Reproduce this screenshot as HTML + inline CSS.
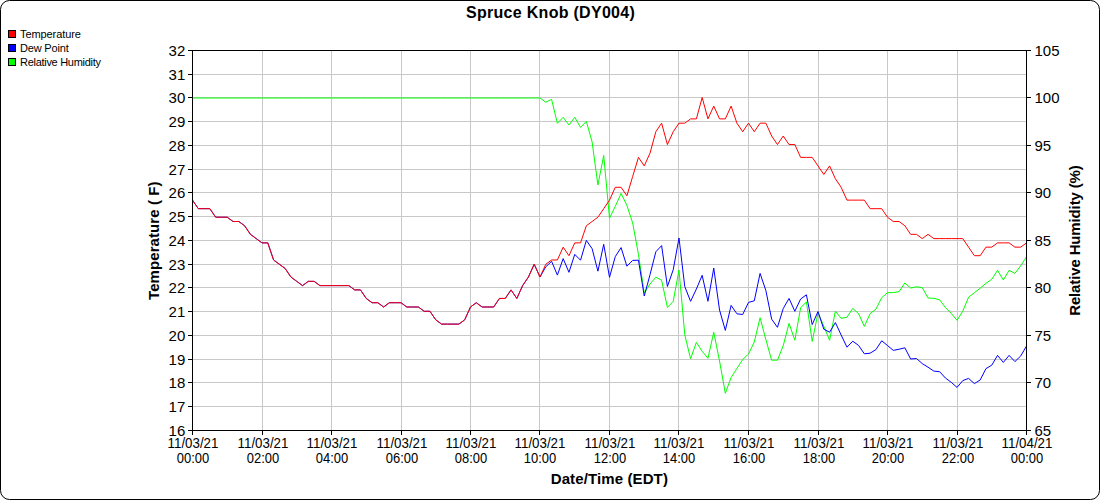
<!DOCTYPE html>
<html><head><meta charset="utf-8"><style>html,body{margin:0;padding:0;background:#fff;width:1100px;height:500px;overflow:hidden}svg{display:block}</style></head>
<body><svg width="1100" height="500" viewBox="0 0 1100 500"><rect x="0.5" y="0.5" width="1099" height="499" rx="9" ry="9" fill="#fff" stroke="#000" stroke-width="1"/>
<text x="466" y="17.8" textLength="168.8" lengthAdjust="spacing" font-family="Liberation Sans, sans-serif" font-size="16" font-weight="bold">Spruce Knob (DY004)</text>
<rect x="8.5" y="30.5" width="7" height="7" fill="#f00" stroke="#000" stroke-width="1"/>
<text x="20" y="38" textLength="60.9" lengthAdjust="spacing" font-family="Liberation Sans, sans-serif" font-size="11">Temperature</text>
<rect x="8.5" y="44.5" width="7" height="7" fill="#00f" stroke="#000" stroke-width="1"/>
<text x="20" y="52" textLength="48.7" lengthAdjust="spacing" font-family="Liberation Sans, sans-serif" font-size="11">Dew Point</text>
<rect x="8.5" y="58.5" width="7" height="7" fill="#0f0" stroke="#000" stroke-width="1"/>
<text x="20" y="66" textLength="81.0" lengthAdjust="spacing" font-family="Liberation Sans, sans-serif" font-size="11">Relative Humidity</text>
<path d="M193 406.5H1026 M193 382.5H1026 M193 359.5H1026 M193 335.5H1026 M193 311.5H1026 M193 287.5H1026 M193 264.5H1026 M193 240.5H1026 M193 216.5H1026 M193 192.5H1026 M193 169.5H1026 M193 145.5H1026 M193 121.5H1026 M193 97.5H1026 M193 74.5H1026 M262.5 51V430 M331.5 51V430 M401.5 51V430 M470.5 51V430 M539.5 51V430 M609.5 51V430 M678.5 51V430 M748.5 51V430 M818.5 51V430 M887.5 51V430 M957.5 51V430" stroke="#c8c8c8" stroke-width="1" fill="none"/>
<polyline points="192.50,98.00 198.29,98.00 204.08,98.00 209.88,98.00 215.67,98.00 221.46,98.00 227.25,98.00 233.04,98.00 238.83,98.00 244.62,98.00 250.42,98.00 256.21,98.00 262.00,98.00 267.79,98.00 273.58,98.00 279.38,98.00 285.17,98.00 290.96,98.00 296.75,98.00 302.54,98.00 308.33,98.00 314.12,98.00 319.92,98.00 325.71,98.00 331.50,98.00 337.29,98.00 343.08,98.00 348.88,98.00 354.67,98.00 360.46,98.00 366.25,98.00 372.04,98.00 377.83,98.00 383.62,98.00 389.42,98.00 395.21,98.00 401.00,98.00 406.79,98.00 412.58,98.00 418.38,98.00 424.17,98.00 429.96,98.00 435.75,98.00 441.54,98.00 447.33,98.00 453.12,98.00 458.92,98.00 464.71,98.00 470.50,98.00 476.29,98.00 482.08,98.00 487.88,98.00 493.67,98.00 499.46,98.00 505.25,98.00 511.04,98.00 516.83,98.00 522.62,98.00 528.42,98.00 534.21,98.00 540.00,98.00 545.79,102.20 551.58,99.40 557.38,123.30 563.17,117.30 568.96,125.00 574.75,117.30 580.54,127.40 586.33,121.40 592.12,142.00 597.92,185.00 603.71,155.40 609.50,218.20 615.29,206.30 621.08,193.40 626.88,205.40 632.67,222.90 638.46,254.40 644.25,293.00 650.04,284.00 655.83,277.20 661.62,280.30 667.42,307.40 673.21,301.40 679.00,270.00 684.79,334.80 690.58,358.80 696.38,342.30 702.17,351.30 707.96,358.30 713.75,332.20 719.54,361.00 725.33,393.30 731.12,377.50 736.92,368.50 742.71,359.50 748.50,354.00 754.29,342.00 760.08,317.70 765.88,339.60 771.67,360.20 777.46,360.20 783.25,345.60 789.04,323.40 794.83,340.20 800.62,307.80 806.42,301.80 812.21,341.40 818.00,312.80 823.79,326.20 829.58,340.30 835.38,311.20 841.17,318.40 846.96,317.20 852.75,308.40 858.54,313.60 864.33,326.40 870.12,313.60 875.92,309.20 881.71,297.70 887.50,292.60 893.29,292.60 899.08,291.60 904.88,283.00 910.67,288.00 916.46,286.80 922.25,287.50 928.04,298.00 933.83,298.30 939.62,299.80 945.42,307.60 951.21,313.30 957.00,320.30 962.79,311.20 968.58,297.20 974.38,292.70 980.17,288.20 985.96,283.30 991.75,279.30 997.54,270.30 1003.33,280.00 1009.12,270.30 1014.92,273.30 1020.71,265.80 1026.50,256.75" fill="none" stroke="#0f0" stroke-width="1" stroke-linejoin="round" />
<polyline points="192.50,200.13 198.29,208.68 204.08,208.68 209.88,208.68 215.67,217.22 221.46,217.22 227.25,217.22 233.04,221.50 238.83,221.50 244.62,225.77 250.42,234.33 256.21,238.60 262.00,242.88 267.79,242.88 273.58,259.98 279.38,264.25 285.17,268.52 290.96,277.07 296.75,281.35 302.54,285.62 308.33,281.35 314.12,281.35 319.92,285.62 325.71,285.62 331.50,285.62 337.29,285.62 343.08,285.62 348.88,285.62 354.67,289.90 360.46,289.90 366.25,298.45 372.04,302.73 377.83,302.73 383.62,307.00 389.42,302.73 395.21,302.73 401.00,302.73 406.79,307.00 412.58,307.00 418.38,307.00 424.17,311.27 429.96,311.27 435.75,319.82 441.54,324.10 447.33,324.10 453.12,324.10 458.92,324.10 464.71,319.82 470.50,307.00 476.29,302.73 482.08,307.00 487.88,307.00 493.67,307.00 499.46,298.45 505.25,298.45 511.04,289.90 516.83,298.45 522.62,285.62 528.42,277.07 534.21,264.25 540.00,277.00 545.79,266.80 551.58,261.30 557.38,275.10 563.17,258.60 568.96,272.30 574.75,254.40 580.54,260.20 586.33,240.40 592.12,248.70 597.92,271.20 603.71,244.30 609.50,277.30 615.29,256.60 621.08,247.60 626.88,266.20 632.67,260.40 638.46,260.20 644.25,296.00 650.04,274.60 655.83,251.80 661.62,245.60 667.42,286.50 673.21,269.80 679.00,238.00 684.79,286.60 690.58,301.30 696.38,289.00 702.17,275.30 707.96,301.30 713.75,268.10 719.54,310.00 725.33,330.40 731.12,305.40 736.92,313.80 742.71,314.50 748.50,302.40 754.29,300.80 760.08,273.40 765.88,290.60 771.67,319.20 777.46,327.30 783.25,308.50 789.04,298.40 794.83,311.30 800.62,299.00 806.42,294.80 812.21,324.60 818.00,311.50 823.79,329.20 829.58,332.20 835.38,322.60 841.17,335.00 846.96,347.20 852.75,341.20 858.54,345.40 864.33,353.80 870.12,353.20 875.92,349.60 881.71,340.80 887.50,345.50 893.29,350.40 899.08,349.20 904.88,347.80 910.67,359.00 916.46,358.50 922.25,363.60 928.04,367.20 933.83,371.10 939.62,371.70 945.42,378.00 951.21,382.30 957.00,387.40 962.79,380.60 968.58,378.40 974.38,383.60 980.17,380.00 985.96,368.60 991.75,365.20 997.54,355.40 1003.33,362.40 1009.12,355.40 1014.92,361.60 1020.71,356.00 1026.50,346.00" fill="none" stroke="#00f" stroke-width="1" stroke-linejoin="round" />
<polyline points="192.50,200.13 198.29,208.68 204.08,208.68 209.88,208.68 215.67,217.22 221.46,217.22 227.25,217.22 233.04,221.50 238.83,221.50 244.62,225.77 250.42,234.33 256.21,238.60 262.00,242.88 267.79,242.88 273.58,259.98 279.38,264.25 285.17,268.52 290.96,277.07 296.75,281.35 302.54,285.62 308.33,281.35 314.12,281.35 319.92,285.62 325.71,285.62 331.50,285.62 337.29,285.62 343.08,285.62 348.88,285.62 354.67,289.90 360.46,289.90 366.25,298.45 372.04,302.73 377.83,302.73 383.62,307.00 389.42,302.73 395.21,302.73 401.00,302.73 406.79,307.00 412.58,307.00 418.38,307.00 424.17,311.27 429.96,311.27 435.75,319.82 441.54,324.10 447.33,324.10 453.12,324.10 458.92,324.10 464.71,319.82 470.50,307.00 476.29,302.73 482.08,307.00 487.88,307.00 493.67,307.00 499.46,298.45 505.25,298.45 511.04,289.90 516.83,298.45 522.62,285.62 528.42,277.07 534.21,264.25 540.00,277.07 545.79,264.25 551.58,259.98 557.38,259.98 563.17,247.15 568.96,255.70 574.75,242.88 580.54,242.88 586.33,225.77 592.12,221.50 597.92,217.22 603.71,208.68 609.50,200.13 615.29,187.30 621.08,187.30 626.88,195.85 632.67,176.50 638.46,157.38 644.25,165.93 650.04,153.10 655.83,131.73 661.62,123.17 667.42,144.55 673.21,131.73 679.00,123.17 684.79,123.17 690.58,118.90 696.38,118.90 702.17,97.53 707.96,118.90 713.75,106.07 719.54,118.90 725.33,118.90 731.12,106.07 736.92,123.17 742.71,131.73 748.50,123.17 754.29,131.73 760.08,123.17 765.88,123.17 771.67,136.00 777.46,144.55 783.25,136.00 789.04,144.55 794.83,144.55 800.62,157.38 806.42,157.38 812.21,157.38 818.00,165.93 823.79,174.47 829.58,165.93 835.38,178.75 841.17,187.30 846.96,200.13 852.75,200.13 858.54,200.13 864.33,200.13 870.12,208.68 875.92,208.68 881.71,208.68 887.50,217.22 893.29,221.50 899.08,221.50 904.88,225.77 910.67,234.33 916.46,234.33 922.25,238.60 928.04,234.33 933.83,238.60 939.62,238.60 945.42,238.60 951.21,238.60 957.00,238.60 962.79,238.60 968.58,247.15 974.38,255.70 980.17,255.70 985.96,247.15 991.75,247.15 997.54,242.88 1003.33,242.88 1009.12,242.88 1014.92,247.15 1020.71,247.15 1026.50,242.88" fill="none" stroke="#f00" stroke-width="1" stroke-linejoin="round" />
<path d="M188 50.5H1031 M188 430.5H1031 M192.5 50V435 M1026.5 50V435 M188 406.5H192 M188 382.5H192 M188 359.5H192 M188 335.5H192 M188 311.5H192 M188 287.5H192 M188 264.5H192 M188 240.5H192 M188 216.5H192 M188 192.5H192 M188 169.5H192 M188 145.5H192 M188 121.5H192 M188 97.5H192 M188 74.5H192 M1027 382.5H1031 M1027 335.5H1031 M1027 287.5H1031 M1027 240.5H1031 M1027 192.5H1031 M1027 145.5H1031 M1027 97.5H1031 M262.5 431V435 M331.5 431V435 M401.5 431V435 M470.5 431V435 M539.5 431V435 M609.5 431V435 M678.5 431V435 M748.5 431V435 M818.5 431V435 M887.5 431V435 M957.5 431V435" stroke="#000" stroke-width="1" fill="none"/>
<text transform="translate(185.3,435.80)" text-anchor="end" font-family="Liberation Sans, sans-serif" font-size="15">16</text>
<text transform="translate(185.3,411.80)" text-anchor="end" font-family="Liberation Sans, sans-serif" font-size="15">17</text>
<text transform="translate(185.3,387.80)" text-anchor="end" font-family="Liberation Sans, sans-serif" font-size="15">18</text>
<text transform="translate(185.3,364.80)" text-anchor="end" font-family="Liberation Sans, sans-serif" font-size="15">19</text>
<text transform="translate(185.3,340.80)" text-anchor="end" font-family="Liberation Sans, sans-serif" font-size="15">20</text>
<text transform="translate(185.3,316.80)" text-anchor="end" font-family="Liberation Sans, sans-serif" font-size="15">21</text>
<text transform="translate(185.3,292.80)" text-anchor="end" font-family="Liberation Sans, sans-serif" font-size="15">22</text>
<text transform="translate(185.3,269.80)" text-anchor="end" font-family="Liberation Sans, sans-serif" font-size="15">23</text>
<text transform="translate(185.3,245.80)" text-anchor="end" font-family="Liberation Sans, sans-serif" font-size="15">24</text>
<text transform="translate(185.3,221.80)" text-anchor="end" font-family="Liberation Sans, sans-serif" font-size="15">25</text>
<text transform="translate(185.3,197.80)" text-anchor="end" font-family="Liberation Sans, sans-serif" font-size="15">26</text>
<text transform="translate(185.3,174.80)" text-anchor="end" font-family="Liberation Sans, sans-serif" font-size="15">27</text>
<text transform="translate(185.3,150.80)" text-anchor="end" font-family="Liberation Sans, sans-serif" font-size="15">28</text>
<text transform="translate(185.3,126.80)" text-anchor="end" font-family="Liberation Sans, sans-serif" font-size="15">29</text>
<text transform="translate(185.3,102.80)" text-anchor="end" font-family="Liberation Sans, sans-serif" font-size="15">30</text>
<text transform="translate(185.3,79.80)" text-anchor="end" font-family="Liberation Sans, sans-serif" font-size="15">31</text>
<text transform="translate(185.3,55.80)" text-anchor="end" font-family="Liberation Sans, sans-serif" font-size="15">32</text>
<text transform="translate(1034.5,435.80)" font-family="Liberation Sans, sans-serif" font-size="15">65</text>
<text transform="translate(1034.5,387.80)" font-family="Liberation Sans, sans-serif" font-size="15">70</text>
<text transform="translate(1034.5,340.80)" font-family="Liberation Sans, sans-serif" font-size="15">75</text>
<text transform="translate(1034.5,292.80)" font-family="Liberation Sans, sans-serif" font-size="15">80</text>
<text transform="translate(1034.5,245.80)" font-family="Liberation Sans, sans-serif" font-size="15">85</text>
<text transform="translate(1034.5,197.80)" font-family="Liberation Sans, sans-serif" font-size="15">90</text>
<text transform="translate(1034.5,150.80)" font-family="Liberation Sans, sans-serif" font-size="15">95</text>
<text transform="translate(1034.5,102.80)" font-family="Liberation Sans, sans-serif" font-size="15">100</text>
<text transform="translate(1034.5,55.80)" font-family="Liberation Sans, sans-serif" font-size="15">105</text>
<text x="193.00" y="447.8" text-anchor="middle" textLength="50.8" lengthAdjust="spacingAndGlyphs" font-family="Liberation Sans, sans-serif" font-size="14">11/03/21</text>
<text x="193.00" y="462.8" text-anchor="middle" textLength="32.4" lengthAdjust="spacingAndGlyphs" font-family="Liberation Sans, sans-serif" font-size="14">00:00</text>
<text x="263.00" y="447.8" text-anchor="middle" textLength="50.8" lengthAdjust="spacingAndGlyphs" font-family="Liberation Sans, sans-serif" font-size="14">11/03/21</text>
<text x="263.00" y="462.8" text-anchor="middle" textLength="32.4" lengthAdjust="spacingAndGlyphs" font-family="Liberation Sans, sans-serif" font-size="14">02:00</text>
<text x="332.00" y="447.8" text-anchor="middle" textLength="50.8" lengthAdjust="spacingAndGlyphs" font-family="Liberation Sans, sans-serif" font-size="14">11/03/21</text>
<text x="332.00" y="462.8" text-anchor="middle" textLength="32.4" lengthAdjust="spacingAndGlyphs" font-family="Liberation Sans, sans-serif" font-size="14">04:00</text>
<text x="402.00" y="447.8" text-anchor="middle" textLength="50.8" lengthAdjust="spacingAndGlyphs" font-family="Liberation Sans, sans-serif" font-size="14">11/03/21</text>
<text x="402.00" y="462.8" text-anchor="middle" textLength="32.4" lengthAdjust="spacingAndGlyphs" font-family="Liberation Sans, sans-serif" font-size="14">06:00</text>
<text x="471.00" y="447.8" text-anchor="middle" textLength="50.8" lengthAdjust="spacingAndGlyphs" font-family="Liberation Sans, sans-serif" font-size="14">11/03/21</text>
<text x="471.00" y="462.8" text-anchor="middle" textLength="32.4" lengthAdjust="spacingAndGlyphs" font-family="Liberation Sans, sans-serif" font-size="14">08:00</text>
<text x="540.00" y="447.8" text-anchor="middle" textLength="50.8" lengthAdjust="spacingAndGlyphs" font-family="Liberation Sans, sans-serif" font-size="14">11/03/21</text>
<text x="540.00" y="462.8" text-anchor="middle" textLength="32.4" lengthAdjust="spacingAndGlyphs" font-family="Liberation Sans, sans-serif" font-size="14">10:00</text>
<text x="610.00" y="447.8" text-anchor="middle" textLength="50.8" lengthAdjust="spacingAndGlyphs" font-family="Liberation Sans, sans-serif" font-size="14">11/03/21</text>
<text x="610.00" y="462.8" text-anchor="middle" textLength="32.4" lengthAdjust="spacingAndGlyphs" font-family="Liberation Sans, sans-serif" font-size="14">12:00</text>
<text x="679.00" y="447.8" text-anchor="middle" textLength="50.8" lengthAdjust="spacingAndGlyphs" font-family="Liberation Sans, sans-serif" font-size="14">11/03/21</text>
<text x="679.00" y="462.8" text-anchor="middle" textLength="32.4" lengthAdjust="spacingAndGlyphs" font-family="Liberation Sans, sans-serif" font-size="14">14:00</text>
<text x="749.00" y="447.8" text-anchor="middle" textLength="50.8" lengthAdjust="spacingAndGlyphs" font-family="Liberation Sans, sans-serif" font-size="14">11/03/21</text>
<text x="749.00" y="462.8" text-anchor="middle" textLength="32.4" lengthAdjust="spacingAndGlyphs" font-family="Liberation Sans, sans-serif" font-size="14">16:00</text>
<text x="819.00" y="447.8" text-anchor="middle" textLength="50.8" lengthAdjust="spacingAndGlyphs" font-family="Liberation Sans, sans-serif" font-size="14">11/03/21</text>
<text x="819.00" y="462.8" text-anchor="middle" textLength="32.4" lengthAdjust="spacingAndGlyphs" font-family="Liberation Sans, sans-serif" font-size="14">18:00</text>
<text x="888.00" y="447.8" text-anchor="middle" textLength="50.8" lengthAdjust="spacingAndGlyphs" font-family="Liberation Sans, sans-serif" font-size="14">11/03/21</text>
<text x="888.00" y="462.8" text-anchor="middle" textLength="32.4" lengthAdjust="spacingAndGlyphs" font-family="Liberation Sans, sans-serif" font-size="14">20:00</text>
<text x="958.00" y="447.8" text-anchor="middle" textLength="50.8" lengthAdjust="spacingAndGlyphs" font-family="Liberation Sans, sans-serif" font-size="14">11/03/21</text>
<text x="958.00" y="462.8" text-anchor="middle" textLength="32.4" lengthAdjust="spacingAndGlyphs" font-family="Liberation Sans, sans-serif" font-size="14">22:00</text>
<text x="1027.00" y="447.8" text-anchor="middle" textLength="50.8" lengthAdjust="spacingAndGlyphs" font-family="Liberation Sans, sans-serif" font-size="14">11/04/21</text>
<text x="1027.00" y="462.8" text-anchor="middle" textLength="32.4" lengthAdjust="spacingAndGlyphs" font-family="Liberation Sans, sans-serif" font-size="14">00:00</text>
<text x="550.7" y="483.8" textLength="117.2" lengthAdjust="spacing" font-family="Liberation Sans, sans-serif" font-size="15" font-weight="bold">Date/Time (EDT)</text>
<text transform="translate(159.1,300) rotate(-90)" textLength="118.6" lengthAdjust="spacing" font-family="Liberation Sans, sans-serif" font-size="15" font-weight="bold">Temperature ( F)</text>
<text transform="translate(1080,315.8) rotate(-90)" textLength="150.6" lengthAdjust="spacing" font-family="Liberation Sans, sans-serif" font-size="15" font-weight="bold">Relative Humidity (%)</text></svg></body></html>
